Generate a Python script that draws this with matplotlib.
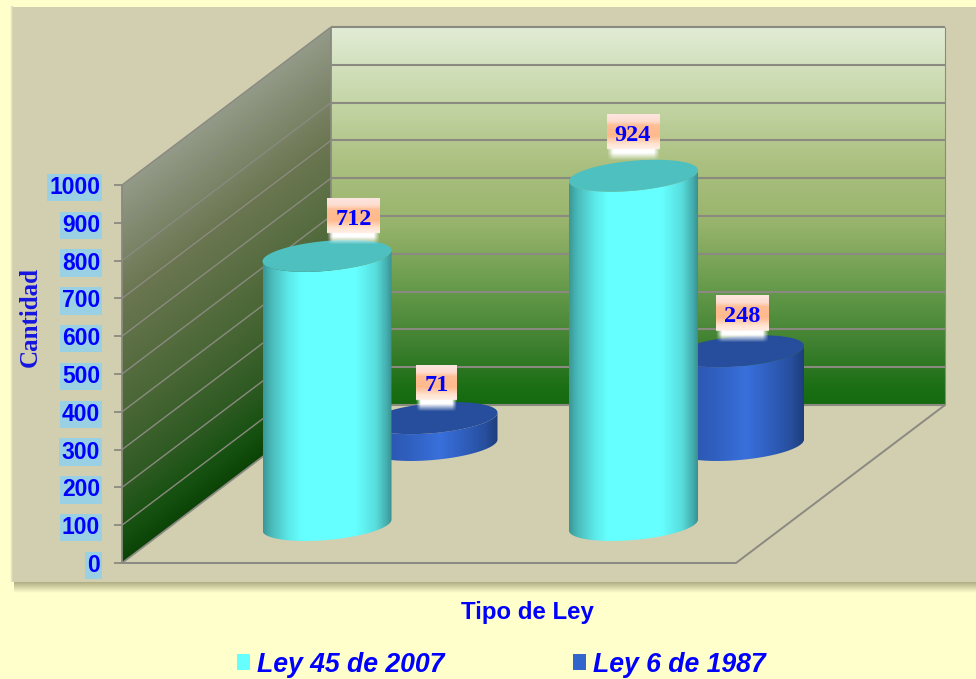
import numpy as np
import matplotlib
matplotlib.use("Agg")
import matplotlib.pyplot as plt
from matplotlib.colors import LinearSegmentedColormap
from matplotlib.patches import Polygon, Rectangle, Patch

# ---- data ----
ley_45 = [712, 924]
ley_6 = [71, 248]
series_names = ["Ley 45 de 2007", "Ley 6 de 1987"]
y_ticks = list(range(0, 1001, 100))
x_title = "Tipo de Ley"
y_title = "Cantidad"

# ---- layout (pixels) ----
W, H = 976, 679
X0, X1 = 122, 736          # front floor edge
Y0, Y1000 = 563, 185       # value 0 and value 1000 on the front plane
DX, DY = 209, 158          # depth offset of the back wall
K = (Y0 - Y1000) / 1000.0  # pixels per value unit
GROUP_X = [327, 633.5]
SERIES_DX = 106
FRONT_BASE = 525
BACK_BASE = 445
A, B, S = 64.5, 15.0, 5.5  # cylinder ellipse: half width, half height, tilt

BG = "#FFFFCC"
PANEL = "#D2CEB0"
GRID = "#8A8A80"
BLUE = "#0000FF"


def v(py):
    """pixel row -> value scale of the axes"""
    return (Y0 - py) / K


fig = plt.figure(figsize=(W / 100, H / 100), dpi=100, facecolor=BG)
ax = fig.add_axes([X0 / W, (H - Y0) / H, (X1 - X0) / W, (Y0 - Y1000) / H])
ax.set_autoscale_on(False)
ax.set_xlim(X0, X1)
ax.set_ylim(0, 1000)
ax.patch.set_visible(False)
for name in ("top", "right", "bottom"):
    ax.spines[name].set_visible(False)
ax.spines["left"].set_color(GRID)
ax.spines["left"].set_linewidth(1.3)
ax.set_xticks([])
ax.set_yticks(y_ticks)
ax.set_yticklabels(
    [str(t) for t in y_ticks], fontfamily="Liberation Sans", fontweight="bold",
    fontsize=16.5, color=BLUE,
    bbox=dict(facecolor="#99D0E4", edgecolor="none", pad=1.6),
)
ax.tick_params(axis="y", length=5.8, width=1.3, color=GRID, pad=10)
ax.yaxis.set_label_coords((30 - X0) / (X1 - X0), (Y0 - 317) / (Y0 - Y1000))
ax.set_ylabel(y_title, fontfamily="Liberation Serif", fontweight="bold",
              fontsize=18, color="#1515E0", va="center", ha="center")
ax.xaxis.set_label_coords((527 - X0) / (X1 - X0), (Y0 - 613) / (Y0 - Y1000))
ax.set_xlabel(x_title, fontfamily="Liberation Sans", fontweight="bold",
              fontsize=17.3, color=BLUE, va="center", ha="center")


def cmap(stops):
    return LinearSegmentedColormap.from_list("g", stops, N=512)


def gradient(arr, extent, colors, clip=None, z=1, vmin=0, vmax=1):
    im = ax.imshow(arr, extent=extent, aspect="auto", cmap=cmap(colors), vmin=vmin, vmax=vmax,
                   interpolation="bilinear", origin="upper", zorder=z)
    im.set_clip_box(fig.bbox)
    if clip is not None:
        p = Polygon(clip, closed=True, facecolor="none", edgecolor="none", zorder=z, clip_on=False)
        ax.add_patch(p)
        im.set_clip_path(p)
    return im


def line(xs, ys, lw=1.3, z=1.5):
    ax.plot(xs, ys, color=GRID, lw=lw, zorder=z, clip_on=False, solid_capstyle="butt")


# panel with soft shadow
ax.add_patch(Rectangle((13, v(582)), W - 13, v(7) - v(582), facecolor=PANEL, edgecolor="none",
                       zorder=0.5, clip_on=False))
shadow = np.linspace(0, 1, 64).reshape(-1, 1)
gradient(shadow, (14, W, v(593), v(582)), [(0, "#B0AD84"), (1, BG)], z=0.4)
gradient(np.linspace(0, 1, 64).reshape(1, -1), (10, 13, v(582), v(7)), [(0, BG), (1, PANEL)], z=0.4)

# back wall
stops_back = [(0, "#E2ECD6"), (0.2, "#C4D5A5"), (0.36, "#ABC080"), (0.52, "#98B46C"),
              (0.7, "#64994A"), (0.85, "#3C7F2E"), (0.96, "#1A6E14"), (1, "#156A10")]
gradient(np.linspace(0, 1, 256).reshape(-1, 1), (X0 + DX, X1 + DX, v(Y0 - DY), v(Y1000 - DY)),
         stops_back)

# side wall: the shade follows the height on the wall
xs = np.linspace(X0, X0 + DX, 128)
ys = np.linspace(Y1000 - DY, Y0, 256)
xx, yy = np.meshgrid(xs, ys)
w = (Y0 - (xx - X0) * DY / DX - yy) / (Y0 - Y1000)
side = [(0, "#0B4406"), (0.07, "#14500F"), (0.2, "#2E5A22"), (0.4, "#4A6736"),
        (0.7, "#6B7651"), (1, "#939A88")]
side_poly = [(X0, 0), (X0, 1000), (X0 + DX, 1000 + DY / K), (X0 + DX, DY / K)]
gradient(np.clip(w, 0, 1), (X0, X0 + DX, v(Y0), v(Y1000 - DY)), side, clip=side_poly)

# grid lines
depth = DY / K
for tick in y_ticks:
    line([X0, X0 + DX], [tick, tick + depth], lw=1.0 if tick else 1.3)
    line([X0 + DX, X1 + DX], [tick + depth, tick + depth], lw=1.5)
line([X0 + DX, X0 + DX], [depth, 1000 + depth])
line([X1 + DX, X1 + DX], [depth, 1000 + depth], lw=0.8)
line([X0, X1, X1 + DX], [0, 0, depth], lw=1.4)


def ellipse(cx, base_v, th):
    return np.column_stack([cx + A * np.cos(th), base_v + (B * np.sin(th) + S * np.cos(th)) / K])


def cylinder(cx, base_py, value, body, top, z):
    base = v(base_py)
    front = np.linspace(np.pi, 2 * np.pi, 80)
    outline = np.vstack([ellipse(cx, base, front), ellipse(cx, base + value, front[::-1])])
    gradient(np.linspace(0, 1, 256).reshape(1, -1),
             (cx - A, cx + A, base - 20 / K, base + value + 20 / K), body, clip=outline, z=z)
    ax.add_patch(Polygon(ellipse(cx, base + value, np.linspace(0, 2 * np.pi, 160)), closed=True,
                         facecolor=top, edgecolor="none", zorder=z + 0.01, clip_on=False))


CYAN_BODY = [(0, "#3A9696"), (0.06, "#4AB8B8"), (0.2, "#5CEAEA"), (0.3, "#66FFFF"),
             (0.72, "#66FFFF"), (0.88, "#58DCDC"), (0.96, "#45AEAE"), (1, "#3A9090")]
BLUE_BODY = [(0, "#2850A5"), (0.3, "#2F5FBE"), (0.55, "#3A70DC"), (0.72, "#3060C0"),
             (0.9, "#274F9E"), (1, "#1E3D7C")]

for i, cx in enumerate(GROUP_X):
    cylinder(cx + SERIES_DX, BACK_BASE, ley_6[i], BLUE_BODY, "#274E9C", 2.0 + i)
for i, cx in enumerate(GROUP_X):
    cylinder(cx, FRONT_BASE, ley_45[i], CYAN_BODY, "#4EC0C0", 4.0 + i)


# data labels: orange box with a soft white glow below it
def data_label(x, value, text, bw):
    bh, gh = 35.0, 11.0
    x0, x1 = x - bw / 2, x + bw / 2
    top = value + 17.5 / K
    n = int(bh + gh)
    rows = np.linspace(0, 1, 64)
    box = cmap([(0, "#FDE6E0"), (0.2, "#FDDCCF"), (0.32, "#FFBE94"), (0.62, "#FFB98C"),
                (0.85, "#FFE4D2"), (1, "#FFF0E8")])
    img = np.zeros((n * 2, 64, 4))
    for r in range(n * 2):
        py = r / 2
        if py < bh:
            img[r, :, :] = box(py / bh)
        else:
            fade = 1 - (py - bh) / gh
            edge = np.clip(np.minimum(rows, 1 - rows) * 9, 0, 1)
            img[r, :, 0:3] = 1
            img[r, :, 3] = np.clip(fade * 1.5, 0, 1) * edge
    im = ax.imshow(img, extent=(x0, x1, top - (bh + gh) / K, top), aspect="auto", zorder=8,
                   interpolation="bilinear")
    im.set_clip_box(fig.bbox)
    ax.annotate(text, xy=(x, value), xytext=(0, -3.5), textcoords="offset pixels",
                ha="center", va="center", fontfamily="Liberation Serif",
                fontweight="bold", fontsize=17.5, color=BLUE, zorder=9, annotation_clip=False)


label_dx_45 = [26.5, -0.5]
label_dy_45 = [40, 44]
label_dx_6 = [3.5, 3]
label_dy_6 = [36, 38]
for i, cx in enumerate(GROUP_X):
    data_label(cx + label_dx_45[i], v(FRONT_BASE) + ley_45[i] + label_dy_45[i] / K, str(ley_45[i]), 52.5)
    data_label(cx + SERIES_DX + label_dx_6[i], v(BACK_BASE) + ley_6[i] + label_dy_6[i] / K, str(ley_6[i]),
               41 if ley_6[i] < 100 else 52.5)

# legend
handles = [Patch(facecolor="#66FFFF", edgecolor="none", label=series_names[0]),
           Patch(facecolor="#3366CC", edgecolor="none", label=series_names[1])]
fig.legend(handles=handles, ncol=2, frameon=False, loc="center",
           bbox_to_anchor=(501.5 / W, 1 - 664.5 / H),
           prop=dict(family="Liberation Sans", weight="bold", style="italic", size=19.2),
           labelcolor=BLUE, handlelength=0.49, handleheight=0.5, handletextpad=0.26,
           columnspacing=4.83, borderpad=0, borderaxespad=0)

fig.savefig("out.png", dpi=100, facecolor=BG)
